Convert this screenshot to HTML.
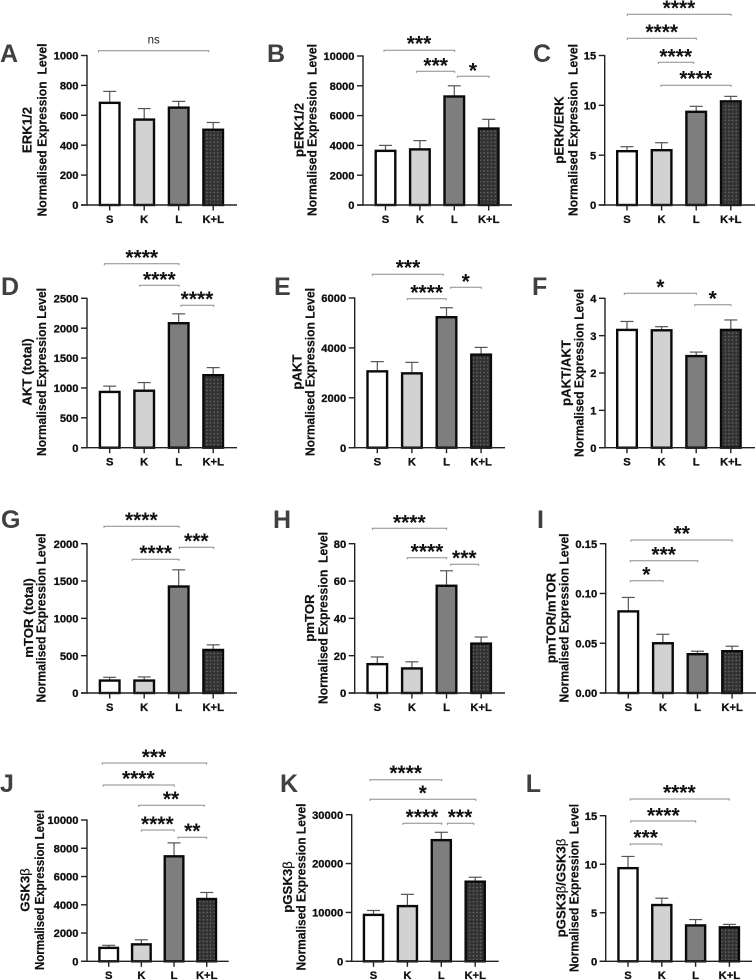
<!DOCTYPE html>
<html>
<head>
<meta charset="utf-8">
<title>Normalised expression bar charts</title>
<style>
html,body{margin:0;padding:0;background:#fff;width:756px;height:980px;overflow:hidden}
svg{display:block;filter:blur(0.25px)}
text{font-family:"Liberation Sans",sans-serif;white-space:pre}
.tick{font-size:11.2px;font-weight:700;fill:#111;stroke:#111;stroke-width:.3;text-anchor:end}
.cat{font-size:11.2px;font-weight:700;fill:#111;stroke:#111;stroke-width:.3;text-anchor:middle}
.ttl{font-size:13.2px;font-weight:700;fill:#111;stroke:#111;stroke-width:.2;text-anchor:middle}
.sig{font-size:21px;font-weight:700;fill:#111;text-anchor:middle}
.ns{font-size:11.5px;font-weight:400;fill:#222;text-anchor:middle}
.letter{font-size:25px;font-weight:700;fill:#404040}
</style>
</head>
<body>
<svg id="figure" xmlns="http://www.w3.org/2000/svg" width="756" height="980" viewBox="0 0 756 980">
<defs>
<pattern id="dots" width="3.6" height="3.6" patternUnits="userSpaceOnUse">
<rect width="3.6" height="3.6" fill="#333333"></rect>
<circle cx="1.8" cy="1.8" r="0.65" fill="#7c7c7c"></circle>
</pattern>
</defs>
</svg>
<script>
const categories = ['S', 'K', 'L', 'K+L'];

const erkMeans = [690, 578, 658, 510];
const erkErrors = [70, 67, 35, 42];
const erkTicks = ['0', '200', '400', '600', '800', '1000'];

const perkMeans = [3700, 3800, 7350, 5200];
const perkErrors = [300, 520, 650, 550];
const perkTicks = ['0', '2000', '4000', '6000', '8000', '10000'];

const ratioErkMeans = [5.5, 5.6, 9.45, 10.5];
const ratioErkErrors = [0.35, 0.65, 0.45, 0.4];
const ratioErkTicks = ['0', '5', '10', '15'];

const aktMeans = [950, 970, 2100, 1230];
const aktErrors = [80, 120, 140, 110];
const aktTicks = ['0', '500', '1000', '1500', '2000', '2500'];

const paktMeans = [3100, 3020, 5270, 3770];
const paktErrors = [350, 400, 340, 250];
const paktTicks = ['0', '2000', '4000', '6000'];

const ratioAktMeans = [3.18, 3.17, 2.48, 3.18];
const ratioAktErrors = [0.2, 0.07, 0.08, 0.24];
const ratioAktTicks = ['0', '1', '2', '3', '4'];

const mtorMeans = [180, 180, 1440, 590];
const mtorErrors = [30, 35, 210, 55];
const mtorTicks = ['0', '500', '1000', '1500', '2000'];

const pmtorMeans = [16, 13.7, 58, 27];
const pmtorErrors = [3.3, 3, 7.5, 3];
const pmtorTicks = ['0', '20', '40', '60', '80'];

const ratioMtorMeans = [0.083, 0.051, 0.04, 0.043];
const ratioMtorErrors = [0.013, 0.008, 0.002, 0.004];
const ratioMtorTicks = ['0.00', '0.05', '0.10', '0.15'];

const gskMeans = [1020, 1270, 7500, 4480];
const gskErrors = [110, 250, 880, 390];
const gskTicks = ['0', '2000', '4000', '6000', '8000', '10000'];

const pgskMeans = [9700, 11500, 25000, 16500];
const pgskErrors = [700, 2200, 1400, 700];
const pgskTicks = ['0', '10000', '20000', '30000'];

const ratioGskMeans = [9.7, 5.9, 3.8, 3.6];
const ratioGskErrors = [1.1, 0.6, 0.5, 0.2];
const ratioGskTicks = ['0', '5', '10', '15'];

const barFills = ['#ffffff', '#d2d2d2', '#7e7e7e', 'url(#dots)'];

/* Panel frames and significance annotations: layout only, the marks come from the arrays above. */
const panels = [
  {id:'a', letter:'A', lx:0, ly:62, means:erkMeans, errors:erkErrors, ticks:erkTicks, axisX:87, y0:205, top:55.5, cx0:109.7, step:34.5, end:237, barW:20,
   title:['ERK1/2','Normalised Expression  Level'], tx:[27,42], tcy:130, tlen:173,
   sig:[[98.5,208.7,50.7,'ns',153.7,43.7]]},
  {id:'b', letter:'B', lx:267, ly:62, means:perkMeans, errors:perkErrors, ticks:perkTicks, axisX:363, y0:205, top:56, cx0:385.5, step:34.4, end:512, barW:20,
   title:['pERK1/2','Normalised Expression  Level'], tx:[299,312], tcy:130, tlen:172,
   sig:[[384,454.7,50.3,'***',419,40],[416.7,454.7,71.3,'***',435.7,62],[457.3,489,76.3,'*',473,66.7]]},
  {id:'c', letter:'C', lx:533, ly:62, means:ratioErkMeans, errors:ratioErkErrors, ticks:ratioErkTicks, axisX:604.7, y0:205, top:55.5, cx0:627, step:34.6, end:755, barW:20,
   title:['pERK/ERK','Normalised Expression  Level'], tx:[559,572.7], tcy:130, tlen:172,
   sig:[[627.3,731,14.3,'****',679,4.3],[627.3,696.3,38.3,'****',661.7,28.3],[658.3,693.7,62.3,'****',675.7,52.7],[661,731,85.3,'****',695.7,75]]},
  {id:'d', letter:'D', lx:1, ly:295, means:aktMeans, errors:aktErrors, ticks:aktTicks, axisX:87, y0:447.7, top:298.3, cx0:109.7, step:34.5, end:237, barW:20,
   title:['AKT (total)','Normalised Expression Level'], tx:[27,41.3], tcy:372, tlen:168,
   sig:[[104.3,179,263.7,'****',141.7,253.7],[139.7,179,285.3,'****',159.3,275.7],[181,213.7,305.3,'****',197,295.3]]},
  {id:'e', letter:'E', lx:274, ly:295, means:paktMeans, errors:paktErrors, ticks:paktTicks, axisX:354.7, y0:447.7, top:298, cx0:377.3, step:34.6, end:505, barW:20,
   title:['pAKT','Normalised Expression Level'], tx:[296.7,310], tcy:372, tlen:168,
   sig:[[372.3,443.3,274.3,'***',408,264],[407.3,446.3,298.7,'****',426.7,288.7],[450.7,481.3,287.3,'*',465.7,277.7]]},
  {id:'f', letter:'F', lx:532, ly:295, means:ratioAktMeans, errors:ratioAktErrors, ticks:ratioAktTicks, axisX:605, y0:447.7, top:298.3, cx0:627, step:34.6, end:755, barW:20,
   title:['pAKT/AKT','Normalised Expression Level'], tx:[565.7,579], tcy:373, tlen:168,
   sig:[[624.3,696.3,293.3,'*',660.3,283.3],[694.7,731,304.7,'*',712.7,294.7]]},
  {id:'g', letter:'G', lx:1, ly:528, means:mtorMeans, errors:mtorErrors, ticks:mtorTicks, axisX:87, y0:693, top:543.7, cx0:109.7, step:34.5, end:237, barW:20,
   title:['mTOR (total)','Normalised Expression Level'], tx:[28.3,41], tcy:618, tlen:169,
   sig:[[104,179,526.3,'****',141.3,516.3],[132.3,179,559.3,'****',155.7,549.3],[179.3,213.7,547.3,'***',196.3,537.3]]},
  {id:'h', letter:'H', lx:273, ly:528, means:pmtorMeans, errors:pmtorErrors, ticks:pmtorTicks, axisX:354.7, y0:693, top:543.7, cx0:377.3, step:34.6, end:505, barW:20,
   title:['pmTOR','Normalised Expression  Level'], tx:[309.3,322.7], tcy:618, tlen:172,
   sig:[[372.3,446.7,528.3,'****',409.3,518.7],[407.3,446.7,557.7,'****',427,547.7],[450.7,478.7,564.3,'***',464.3,554.3]]},
  {id:'i', letter:'I', lx:537, ly:528, means:ratioMtorMeans, errors:ratioMtorErrors, ticks:ratioMtorTicks, axisX:605.7, y0:693, top:543.7, cx0:628.3, step:34.6, end:756, barW:20,
   title:['pmTOR/mTOR','Normalised Expression Level'], tx:[550.7,564], tcy:618, tlen:169,
   sig:[[631,732.3,540,'**',681.7,530],[630.3,697.7,560.7,'***',663.7,550.7],[630.3,663,580.7,'*',646.3,571]]},
  {id:'j', letter:'J', lx:0, ly:792, means:gskMeans, errors:gskErrors, ticks:gskTicks, axisX:87, y0:961.3, top:820, cx0:108.7, step:32.67, end:228.7, barW:19,
   title:['GSK3','Normalised Expression Level'], beta:[1,0], tx:[25,39.3], tcy:890, tlen:160,
   sig:[[102.3,206.7,763,'***',154,753.3],[103.3,174.3,785,'****',138.3,775],[138.7,204.3,805.3,'**',171,795.3],[141.3,174.3,830,'****',157.3,820.3],[178,206.7,837.3,'**',192.3,827.3]]},
  {id:'k', letter:'K', lx:280, ly:792, means:pgskMeans, errors:pgskErrors, ticks:pgskTicks, axisX:351.7, y0:961.3, top:814.7, cx0:373.5, step:33.9, end:498.7, barW:19.5,
   title:['pGSK3','Normalised Expression Level'], beta:[1,0], tx:[287.3,300.7], tcy:887, tlen:167,
   sig:[[370,441.7,779.7,'****',405.7,769.3],[370,475.7,799.3,'*',422.7,789.3],[403,441.7,823.3,'****',422,813.3],[447.3,473.7,823.3,'***',460,813.3]]},
  {id:'l', letter:'L', lx:525.7, ly:792, means:ratioGskMeans, errors:ratioGskErrors, ticks:ratioGskTicks, axisX:605.7, y0:961.3, top:815.7, cx0:628, step:33.8, end:752, barW:19.5,
   title:['pGSK3','Normalised Expression  Level'], beta:[2,0], tx:[560.7,574], tcy:888, tlen:168,
   sig:[[630.3,729.3,799,'****',679.3,789],[630.7,695.7,821,'****',663.3,811.7],[630.3,661.7,844,'***',645.7,834]]}
];

const NS = 'http://www.w3.org/2000/svg';
const figure = document.getElementById('figure');

function make(tag, parent, attrs) {
  const node = document.createElementNS(NS, tag);
  for (const key in attrs) node.setAttribute(key, attrs[key]);
  parent.appendChild(node);
  return node;
}

function yScale(panel) {
  const maxTick = Number(panel.ticks[panel.ticks.length - 1]);
  return function (value) {
    return panel.y0 - (value / maxTick) * (panel.y0 - panel.top);
  };
}

function xScale(panel) {
  return function (index) {
    return panel.cx0 + index * panel.step;
  };
}

function drawPanel(panel) {
  const y = yScale(panel);
  const x = xScale(panel);

  const group = make('g', figure, {});
  
  

  const letter = make('text', group, {x: panel.lx, y: panel.ly, class: 'letter'});
  letter.textContent = panel.letter;
  
  

  panel.title.forEach(function (line, i) {
    const ty = panel.tcy;
    const tx = panel.tx[i] + 4.7;
    const attrs = {x: tx, y: ty, class: 'ttl', transform: 'rotate(-90 ' + tx + ' ' + ty + ')'};
    if (i === 1) {
      attrs.textLength = panel.tlen;
      attrs.lengthAdjust = 'spacingAndGlyphs';
    }
    const title = make('text', group, attrs);
    if (panel.beta && i === 0) {
      title.textContent = line;
      const beta = make('tspan', title, {'font-weight': '400'});
      beta.textContent = 'β';
      if (panel.beta[0] === 2) {
        const rest = make('tspan', title, {});
        rest.textContent = '/GSK3';
        const beta2 = make('tspan', title, {'font-weight': '400'});
        beta2.textContent = 'β';
      }
    } else {
      title.textContent = line;
    }
    
    
  });

  panel.means.forEach(function (mean, i) {
    const cx = x(i);
    const upper = mean + panel.errors[i];
    const barTop = y(mean) + 1;

    const err = make('line', group, {x1: cx, x2: cx, y1: barTop, y2: y(upper), stroke: '#555', 'stroke-width': 1.2});
    
    

    const cap = make('line', group, {x1: cx - 6.5, x2: cx + 6.5, y1: y(upper), y2: y(upper), stroke: '#555', 'stroke-width': 1.2});
    
    

    const bar = make('rect', group, {
      x: cx - (panel.barW - 0.4) / 2, y: barTop, width: panel.barW - 0.4, height: Math.max(0, panel.y0 - barTop),
      fill: barFills[i], stroke: '#0a0a0a', 'stroke-width': 2.4
    });
    
    
  });

  const yAxis = make('line', group, {x1: panel.axisX, x2: panel.axisX, y1: panel.top - 0.6, y2: panel.y0 + 0.6, stroke: '#222', 'stroke-width': 1.4});
  
  

  const xAxis = make('line', group, {x1: panel.axisX - 6, x2: panel.end, y1: panel.y0, y2: panel.y0, stroke: '#222', 'stroke-width': 1.4});
  
  

  panel.ticks.forEach(function (label) {
    const ty = y(Number(label));
    const mark = make('line', group, {x1: panel.axisX - 6, x2: panel.axisX, y1: ty, y2: ty, stroke: '#222', 'stroke-width': 1.4});
    
    

    const text = make('text', group, {x: panel.axisX - 8.5, y: ty + 4.1, class: 'tick'});
    text.textContent = label;
    
    
  });

  categories.forEach(function (name, i) {
    const cx = x(i);
    const mark = make('line', group, {x1: cx, x2: cx, y1: panel.y0, y2: panel.y0 + 5.5, stroke: '#222', 'stroke-width': 1.4});
    
    

    const text = make('text', group, {x: cx, y: panel.y0 + 17.8, class: 'cat'});
    text.textContent = name;
    
    
  });

  panel.sig.forEach(function (s, i) {
    const path = make('path', group, {
      d: 'M' + s[0] + ' ' + (s[2] + 1.6) + 'V' + s[2] + 'H' + s[1] + 'V' + (s[2] + 1.6),
      fill: 'none', stroke: '#8c8c8c', 'stroke-width': 1
    });
    
    

    const isNs = s[3] === 'ns';
    const label = make('text', group, {x: s[4], y: isNs ? s[5] : s[5] + 10.6, class: isNs ? 'ns' : 'sig'});
    label.textContent = s[3];
    
    
  });
}

panels.forEach(drawPanel);
</script>
</body>
</html>
